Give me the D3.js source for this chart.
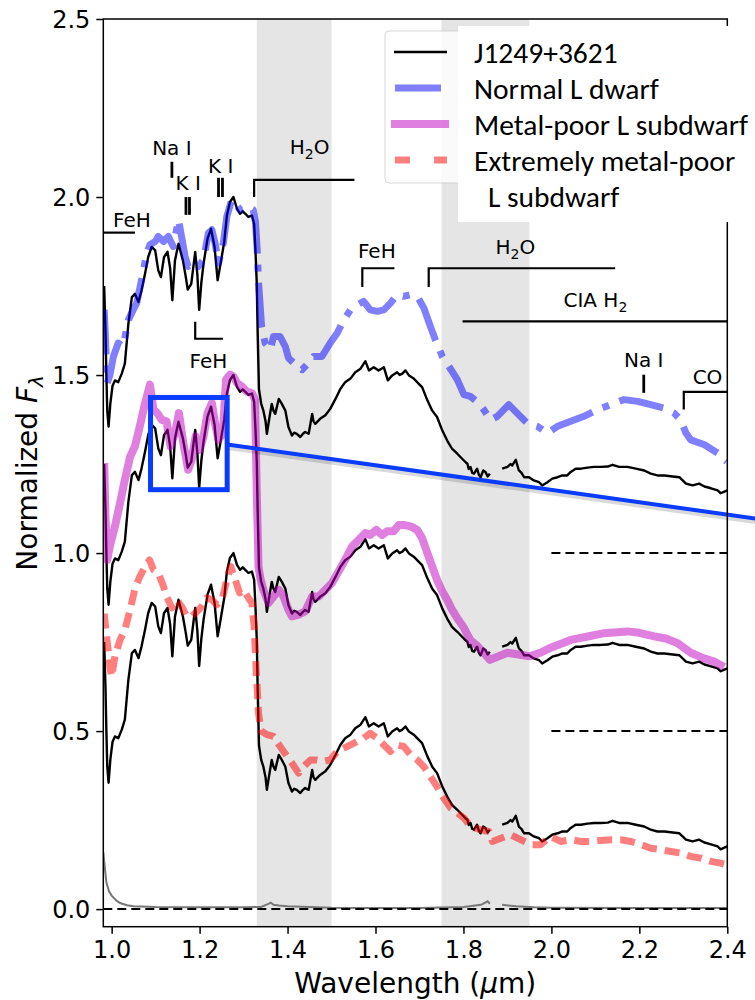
<!DOCTYPE html>
<html><head><meta charset="utf-8">
<script src="https://cdn.jsdelivr.net/npm/d3@7"></script>
<style>
html,body{margin:0;padding:0;background:#fff;}
svg{display:block;}
text{font-family:"DejaVu Sans",sans-serif;}
</style></head>
<body>
<svg id="chart" width="755" height="1000"></svg>
<script>
// ---------- DATA ----------
const offsets = [1.0, 0.5, 0.0];           // vertical offsets of the three comparison panels
const shadedBands = [[1.33, 1.50], [1.75, 1.95]];
const xTicks = [1.0, 1.2, 1.4, 1.6, 1.8, 2.0, 2.2, 2.4];
const yTicks = [0.0, 0.5, 1.0, 1.5, 2.0, 2.5];

// J1249+3621 (unoffset)
const j1249Wave = [0.983,0.986,0.988,0.990,0.993,0.997,1.002,1.0075,1.015,1.023,1.030,1.038,1.046,1.053,1.061,1.068,1.076,1.083,1.091,1.099,1.106,1.112,1.119,1.127,1.133,1.138,1.144,1.152,1.162,1.168,1.173,1.181,1.190,1.195,1.199,1.204,1.209,1.218,1.226,1.234,1.241,1.247,1.256,1.262,1.269,1.277,1.285,1.292,1.298,1.304,1.311,1.319,1.324,1.327,1.330,1.332,1.335,1.340,1.345,1.350,1.353,1.359,1.364,1.368,1.372,1.380,1.387,1.395,1.402,1.410,1.415,1.421,1.429,1.435,1.440,1.448,1.456,1.459,1.463,1.474,1.486,1.497,1.509,1.520,1.531,1.543,1.554,1.566,1.577,1.585,1.596,1.607,1.619,1.628,1.638,1.649,1.655,1.661,1.668,1.676,1.687,1.698,1.706,1.718,1.729,1.740,1.752,1.763,1.774,1.786,1.797,1.805,1.809,1.812,1.816,1.820,1.824,1.831,1.835,1.839,1.845,1.850,1.855,1.860,1.874,1.888,1.900,1.907,1.911,1.919,1.926,1.932,1.938,1.949,1.960,1.972,1.979,1.991,2.002,2.014,2.025,2.036,2.044,2.055,2.067,2.082,2.097,2.112,2.128,2.139,2.154,2.173,2.192,2.211,2.226,2.241,2.257,2.276,2.291,2.306,2.321,2.336,2.348,2.363,2.378,2.385,2.392,2.400];
const j1249Flux = [0.75,0.62,0.50,0.40,0.355,0.42,0.47,0.485,0.48,0.504,0.532,0.644,0.719,0.728,0.705,0.738,0.785,0.831,0.860,0.850,0.794,0.775,0.831,0.846,0.80,0.71,0.822,0.869,0.822,0.78,0.74,0.756,0.846,0.78,0.683,0.76,0.813,0.883,0.911,0.860,0.766,0.808,0.874,0.948,0.986,1.0,0.967,0.953,0.96,0.953,0.944,0.948,0.925,0.85,0.756,0.62,0.46,0.42,0.40,0.37,0.335,0.382,0.419,0.40,0.391,0.433,0.419,0.40,0.354,0.330,0.338,0.335,0.326,0.335,0.340,0.335,0.391,0.37,0.363,0.377,0.387,0.405,0.433,0.461,0.480,0.490,0.508,0.518,0.539,0.513,0.522,0.513,0.522,0.485,0.499,0.508,0.50,0.504,0.513,0.499,0.490,0.476,0.466,0.429,0.40,0.382,0.344,0.316,0.293,0.279,0.265,0.255,0.251,0.236,0.242,0.225,0.223,0.237,0.22,0.213,0.232,0.228,0.215,0.223,null,0.237,0.242,0.25,0.246,0.262,0.232,0.225,0.213,0.213,0.204,0.199,0.190,0.199,0.209,0.213,0.218,0.218,0.228,0.237,0.237,0.240,0.242,0.242,0.243,0.248,0.242,0.242,0.237,0.232,0.223,0.218,0.218,0.215,0.213,0.195,0.190,0.195,0.187,0.182,0.176,0.168,0.172,0.176];

// Normal L dwarf (unoffset)
const normalLWave = [0.983,0.986,0.990,0.996,1.004,1.015,1.026,1.038,1.049,1.057,1.068,1.080,1.087,1.099,1.106,1.118,1.129,1.140,1.152,1.159,1.167,1.174,1.186,1.197,1.209,1.220,1.228,1.235,1.243,1.254,1.262,1.273,1.281,1.292,1.307,1.322,1.327,1.331,1.334,1.341,1.349,1.361,1.368,1.383,1.395,1.402,1.418,1.433,1.448,1.459,1.478,1.497,1.513,1.528,1.543,1.558,1.573,1.588,1.604,1.619,1.634,1.649,1.664,1.680,1.695,1.710,1.725,1.736,1.752,1.767,1.786,1.801,1.816,1.835,1.846,1.862,1.877,1.903,1.922,1.945,1.968,1.991,2.014,2.044,2.074,2.105,2.135,2.165,2.196,2.226,2.257,2.279,2.294,2.306,2.317,2.348,2.378,2.399];
const normalLFlux = [0.684,0.60,0.477,0.50,0.552,0.59,0.58,0.655,0.683,0.702,0.768,0.843,0.866,0.875,0.889,0.875,0.889,0.861,0.936,0.889,0.833,0.805,0.815,0.805,0.824,0.899,0.908,0.871,0.815,0.871,0.946,0.992,0.983,0.964,0.974,0.964,0.93,0.85,0.76,0.636,0.59,0.571,0.608,0.608,0.58,0.548,0.529,0.515,0.534,0.552,0.552,0.59,0.618,0.655,0.683,0.697,0.707,0.683,0.679,0.683,0.702,0.726,0.721,0.726,0.721,0.688,0.636,0.599,0.552,0.524,0.487,0.445,0.44,0.421,0.403,0.374,0.384,0.417,0.393,0.365,0.356,0.337,0.356,0.370,0.384,0.403,0.417,0.431,0.426,0.417,0.407,0.393,0.374,0.337,0.318,0.304,0.281,0.257];

// Metal-poor L subdwarf (unoffset)
const metalPoorWave = [0.983,0.986,0.990,0.996,1.0075,1.019,1.030,1.042,1.053,1.064,1.076,1.087,1.095,1.104,1.114,1.125,1.134,1.144,1.153,1.163,1.174,1.182,1.191,1.200,1.209,1.218,1.228,1.235,1.243,1.253,1.260,1.269,1.277,1.285,1.296,1.307,1.319,1.326,1.330,1.334,1.338,1.345,1.357,1.368,1.380,1.391,1.402,1.410,1.425,1.440,1.456,1.471,1.486,1.501,1.516,1.531,1.547,1.562,1.577,1.588,1.602,1.615,1.626,1.641,1.653,1.664,1.680,1.695,1.706,1.718,1.729,1.740,1.752,1.763,1.774,1.786,1.801,1.816,1.831,1.846,1.860,1.880,1.900,1.925,1.950,1.975,2.000,2.044,2.080,2.120,2.173,2.200,2.234,2.260,2.287,2.317,2.345,2.370,2.393];
const metalPoorFlux = [0.753,0.60,0.481,0.52,0.575,0.64,0.706,0.771,0.80,0.856,0.921,0.973,0.903,0.893,0.874,0.87,0.80,0.837,0.893,0.809,0.734,0.762,0.828,0.790,0.828,0.893,0.921,0.865,0.818,0.837,0.987,1.001,0.996,0.978,0.968,0.954,0.949,0.93,0.669,0.462,0.43,0.397,0.36,0.378,0.397,0.378,0.341,0.322,0.327,0.336,0.378,0.378,0.397,0.416,0.448,0.481,0.519,0.537,0.556,0.551,0.565,0.551,0.561,0.561,0.579,0.579,0.575,0.565,0.542,0.50,0.462,0.425,0.392,0.369,0.341,0.317,0.29,0.255,0.24,0.22,0.20,0.21,0.22,0.215,0.21,0.22,0.235,0.256,0.265,0.275,0.280,0.276,0.266,0.26,0.247,0.22,0.205,0.195,0.18];

// Extremely metal-poor L subdwarf (unoffset)
const extremeWave = [0.983,0.990,0.996,1.000,1.0075,1.019,1.030,1.042,1.053,1.064,1.076,1.086,1.095,1.106,1.118,1.125,1.137,1.148,1.159,1.171,1.182,1.194,1.205,1.216,1.228,1.239,1.251,1.262,1.271,1.281,1.291,1.300,1.311,1.319,1.324,1.329,1.334,1.340,1.353,1.368,1.383,1.399,1.410,1.425,1.436,1.452,1.467,1.482,1.497,1.513,1.528,1.543,1.558,1.573,1.588,1.604,1.619,1.634,1.649,1.664,1.680,1.695,1.710,1.725,1.740,1.755,1.771,1.786,1.801,1.816,1.839,1.858,1.866,1.885,1.907,1.930,1.953,1.975,1.998,2.021,2.044,2.067,2.090,2.112,2.135,2.158,2.181,2.204,2.226,2.249,2.272,2.295,2.317,2.340,2.363,2.385,2.400];
const extremeFlux = [0.83,0.75,0.68,0.653,0.71,0.756,0.785,0.841,0.90,0.934,0.962,0.981,0.953,0.944,0.906,0.878,0.846,0.869,0.85,0.822,0.822,0.836,0.850,0.874,0.869,0.855,0.869,0.925,0.962,0.925,0.888,0.897,0.874,0.860,0.794,0.663,0.55,0.50,0.49,0.485,0.457,0.429,0.41,0.382,0.40,0.419,0.419,0.415,0.419,0.443,0.452,0.461,0.471,0.480,0.494,0.480,0.461,0.443,0.461,0.457,0.433,0.419,0.40,0.372,0.344,0.312,0.284,0.270,0.256,0.232,0.223,0.218,0.190,0.199,0.209,0.195,0.181,0.181,0.204,0.190,0.195,0.190,0.190,0.193,0.195,0.195,0.190,0.181,0.171,0.167,0.162,0.157,0.148,0.143,0.134,0.129,0.124];

// Noise spectrum of J1249+3621
const noiseWave = [0.981,0.985,0.988,0.994,1.000,1.010,1.019,1.035,1.05,1.1,1.2,1.3,1.34,1.355,1.362,1.368,1.38,1.40,1.5,1.6,1.7,1.8,1.84,1.855,1.860,1.874,1.888,1.92,1.96,2.0,2.2,2.4];
const noiseFlux = [0.16,0.11,0.075,0.05,0.038,0.025,0.017,0.011,0.008,0.006,0.005,0.005,0.006,0.014,0.018,0.012,0.010,0.008,0.004,0.003,0.003,0.006,0.012,0.022,0.015,null,0.012,0.008,0.005,0.004,0.003,0.003];

const legendLabels = ["J1249+3621", "Normal L dwarf", "Metal-poor L subdwarf", "Extremely metal-poor", "L subdwarf"];

// feature annotations (wavelength extents, flux levels)
const bracketFeatures = [
  {label:"H2O", x0:1.324, x1:1.552, y:2.048, tick:2.0, lx:1.45, ly:2.12},
  {label:"FeH", x0:1.570, x1:1.643, y:1.80, tick:1.747, lx:1.603, ly:1.83},
  {label:"H2O", x0:1.721, x1:2.145, y:1.80, tick:1.747, lx:1.918, ly:1.84},
  {label:"CO",  x0:2.301, x1:2.40,  y:1.453, tick:1.403, lx:2.355, ly:1.475},
  {label:"FeH", x0:1.190, x1:1.253, y:1.602, tick:1.65, lx:1.22, ly:1.52}
];
const flatFeatures = [
  {label:"FeH",   x0:0.981, x1:1.053, y:1.90,  lx:1.003, ly:1.916, anchor:"start"},
  {label:"CIA H2",x0:1.798, x1:2.40,  y:1.651, lx:2.10,  ly:1.69,  anchor:"middle"}
];
const lineFeatures = [
  {label:"Na I", lines:[1.137],       y0:2.054, y1:2.099, lx:1.137, ly:2.118},
  {label:"K I",  lines:[1.169,1.177], y0:1.95,  y1:2.0,   lx:1.174, ly:2.02},
  {label:"K I",  lines:[1.243,1.252], y0:2.0,   y1:2.054, lx:1.248, ly:2.068},
  {label:"Na I", lines:[2.210],       y0:1.450, y1:1.501, lx:2.210, ly:1.522}
];
const zoomBox = {x0:1.0884, x1:1.2627, y0:1.178, y1:1.437};
const connector = [[1.2627, 1.305], [2.568, 1.079]];

// ---------- CHART ----------
const svg = d3.select("#chart");
const m = {left:103.3, right:727.3, top:19, bottom:926.7};
const x = d3.scaleLinear().domain([0.981, 2.4]).range([m.left, m.right]);
const y = d3.scaleLinear().domain([-0.0494, 2.5]).range([m.bottom, m.top]);

svg.append("defs").append("clipPath").attr("id","clip")
  .append("rect").attr("x",m.left).attr("y",m.top).attr("width",m.right-m.left).attr("height",m.bottom-m.top);

const plot = svg.append("g").attr("clip-path","url(#clip)");

// shaded bands
plot.selectAll("rect.band").data(shadedBands).enter().append("rect")
  .attr("x", d=>x(d[0])).attr("width", d=>x(d[1])-x(d[0]))
  .attr("y", m.top).attr("height", m.bottom-m.top).attr("fill","#e5e5e5");

const zip = (w,f,off) => w.map((v,i)=>[v, f[i]===null?null:f[i]+off]);
const line = d3.line().defined(d=>d[1]!==null).x(d=>x(d[0])).y(d=>y(d[1]));

// noise
plot.append("path").attr("d", line(zip(noiseWave, noiseFlux, 0)))
  .attr("fill","none").attr("stroke","#777").attr("stroke-width",2);

// dashed zero lines
plot.append("line").attr("x1",x(0.981)).attr("x2",x(2.4)).attr("y1",y(0)).attr("y2",y(0))
  .attr("stroke","#000").attr("stroke-width",2).attr("stroke-dasharray","9,5");
[0.5, 1.0].forEach(z=>{
  plot.append("line").attr("x1",x(2.0)).attr("x2",x(2.4)).attr("y1",y(z)).attr("y2",y(z))
    .attr("stroke","#000").attr("stroke-width",2).attr("stroke-dasharray","9,5");
});

// J1249 three times
offsets.forEach(off=>{
  plot.append("path").attr("d", line(zip(j1249Wave, j1249Flux, off)))
    .attr("fill","none").attr("stroke","#000").attr("stroke-width",2.4).attr("stroke-linejoin","round");
});

// comparison spectra
const comps = [
  {w:normalLWave, f:normalLFlux, off:offsets[0], color:"#0000ff", width:7, dash:"45,11,7,11"},
  {w:metalPoorWave, f:metalPoorFlux, off:offsets[1], color:"#bf00bf", width:8, dash:null},
  {w:extremeWave, f:extremeFlux, off:offsets[2], color:"#ff0000", width:7, dash:"15,8"}
];
comps.forEach(c=>{
  const p = plot.append("path").attr("d", line(zip(c.w, c.f, c.off)))
    .attr("fill","none").attr("stroke",c.color).attr("stroke-opacity",0.5)
    .attr("stroke-width",c.width).attr("stroke-linejoin","round");
  if (c.dash) p.attr("stroke-dasharray", c.dash);
});

// annotations
const ann = svg.append("g").attr("fill","#000");
function label(g, txt, px, py, anchor){
  const t = g.append("text").attr("x",px).attr("y",py).attr("text-anchor",anchor||"middle")
    .style("font-family","DejaVu Sans").style("font-size","20px");
  const mm = txt.match(/^(.*?)(H)2(O?)$/);
  if (mm){
    t.append("tspan").text(mm[1]+mm[2]);
    t.append("tspan").attr("dy",5).style("font-size","14px").text("2");
    if (mm[3]) t.append("tspan").attr("dy",-5).text(mm[3]);
  } else t.text(txt);
}
bracketFeatures.forEach(f=>{
  ann.append("path").attr("d", `M${x(f.x0)},${y(f.tick)}L${x(f.x0)},${y(f.y)}L${x(f.x1)},${y(f.y)}`)
    .attr("fill","none").attr("stroke","#000").attr("stroke-width",2.2);
  label(ann, f.label, x(f.lx), y(f.ly), "middle");
});
flatFeatures.forEach(f=>{
  ann.append("line").attr("x1",x(f.x0)).attr("x2",x(f.x1)).attr("y1",y(f.y)).attr("y2",y(f.y))
    .attr("stroke","#000").attr("stroke-width",2.2);
  label(ann, f.label, x(f.lx), y(f.ly), f.anchor);
});
lineFeatures.forEach(f=>{
  f.lines.forEach(l=>{
    ann.append("line").attr("x1",x(l)).attr("x2",x(l)).attr("y1",y(f.y0)).attr("y2",y(f.y1))
      .attr("stroke","#000").attr("stroke-width",2.8);
  });
  label(ann, f.label, x(f.lx), y(f.ly), "middle");
});

// zoom box and connector
svg.append("line").attr("x1",x(connector[0][0])).attr("y1",y(connector[0][1])+3)
  .attr("x2",x(connector[1][0])).attr("y2",y(connector[1][1])+3)
  .attr("stroke","#000").attr("stroke-opacity",0.15).attr("stroke-width",5);
svg.append("line").attr("x1",x(connector[0][0])).attr("y1",y(connector[0][1]))
  .attr("x2",x(connector[1][0])).attr("y2",y(connector[1][1]))
  .attr("stroke","#0a3cff").attr("stroke-width",4);
svg.append("rect").attr("x",x(zoomBox.x0)).attr("y",y(zoomBox.y1))
  .attr("width",x(zoomBox.x1)-x(zoomBox.x0)).attr("height",y(zoomBox.y0)-y(zoomBox.y1))
  .attr("fill","none").attr("stroke","#0a3cff").attr("stroke-width",5);

// axes
const xAxis = svg.append("g").attr("transform",`translate(0,${m.bottom})`)
  .call(d3.axisBottom(x).tickValues(xTicks).tickFormat(d3.format(".1f")).tickSize(7).tickPadding(6));
const yAxis = svg.append("g").attr("transform",`translate(${m.left},0)`)
  .call(d3.axisLeft(y).tickValues(yTicks).tickFormat(d3.format(".1f")).tickSize(7).tickPadding(6));
[xAxis,yAxis].forEach(a=>{
  a.select(".domain").remove();
  a.selectAll(".tick line").attr("stroke","#000").attr("stroke-width",1.5);
  a.selectAll(".tick text").attr("fill","#000").style("font-size","24px").style("font-family","DejaVu Sans");
});
xAxis.selectAll(".tick text").attr("dy","0.78em");
yAxis.selectAll(".tick text").attr("dy","0.36em");
// frame
svg.append("rect").attr("x",m.left).attr("y",m.top).attr("width",m.right-m.left).attr("height",m.bottom-m.top)
  .attr("fill","none").attr("stroke","#000").attr("stroke-width",1.5);

// axis labels
const xl = svg.append("text").attr("x",(m.left+m.right)/2).attr("y",993).attr("text-anchor","middle")
  .style("font-family","DejaVu Sans").style("font-size","28px");
xl.append("tspan").text("Wavelength (");
xl.append("tspan").style("font-style","italic").text("μ");
xl.append("tspan").text("m)");
const yl = svg.append("text").attr("transform",`translate(37,${(m.top+m.bottom)/2}) rotate(-90)`)
  .attr("text-anchor","middle").style("font-family","DejaVu Sans").style("font-size","28px");
yl.append("tspan").text("Normalized ");
yl.append("tspan").style("font-style","italic").text("F");
yl.append("tspan").attr("dy",6).style("font-size","20px").style("font-style","italic").text("λ");

// legend
const lg = svg.append("g");
lg.append("rect").attr("x",385).attr("y",31).attr("width",350).attr("height",152).attr("rx",4)
  .attr("fill","#fff").attr("fill-opacity",0.8).attr("stroke","#ccc").attr("stroke-opacity",0.8);
lg.append("rect").attr("x",458).attr("y",26).attr("width",300).attr("height",196).attr("fill","#fff");
const rowY = [52, 88, 124, 160, 196];
const handles = [
  {x0:394, x1:447, color:"#000", op:1, w:2.4, dash:null},
  {x0:395, x1:441, color:"#0000ff", op:0.5, w:7, dash:null},
  {x0:391, x1:449, color:"#bf00bf", op:0.5, w:8, dash:null},
  {x0:395, x1:447, color:"#ff0000", op:0.5, w:7, dash:"15,24"}
];
handles.forEach((h,i)=>{
  const l = lg.append("line").attr("x1",h.x0).attr("x2",h.x1).attr("y1",rowY[i]).attr("y2",rowY[i])
    .attr("stroke",h.color).attr("stroke-opacity",h.op).attr("stroke-width",h.w);
  if (h.dash) l.attr("stroke-dasharray",h.dash);
});
legendLabels.forEach((t,i)=>{
  lg.append("text").attr("x", i===4 ? 488 : 474).attr("y", rowY[i]+11)
    .style("font-family","Carlito, Calibri, Lato, sans-serif").style("font-size","29.5px").attr("fill","#000").text(t);
});
</script>
</body></html>
